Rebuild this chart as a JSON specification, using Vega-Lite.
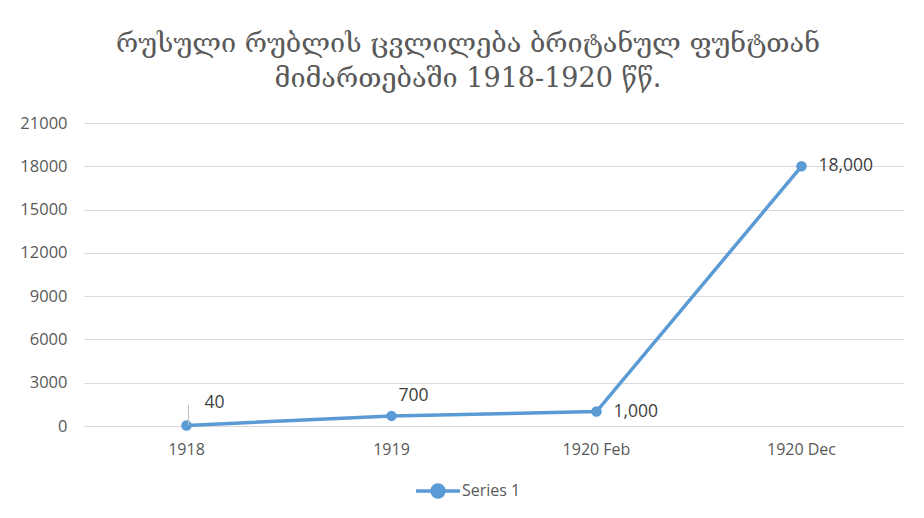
{
  "$schema": "https://vega.github.io/schema/vega-lite/v6.json",
  "width": 820,
  "height": 303,
  "autosize": "none",
  "padding": {"left": 84, "top": 123, "right": 20, "bottom": 92},
  "background": "white",
  "config": {"view": {"stroke": null}},
  "title": {
    "text": ["რუსული რუბლის ცვლილება ბრიტანულ ფუნტთან", "მიმართებაში 1918-1920 წწ."],
    "font": "DejaVu Serif",
    "fontSize": 27,
    "fontWeight": "normal",
    "color": "#595959",
    "anchor": "middle",
    "dx": -26,
    "offset": 22,
    "lineHeight": 35
  },
  "data": {
    "values": [
      {"period": "1918", "value": 40, "series": "Series 1"},
      {"period": "1919", "value": 700, "series": "Series 1"},
      {"period": "1920 Feb", "value": 1000, "series": "Series 1"},
      {"period": "1920 Dec", "value": 18000, "series": "Series 1"}
    ]
  },
  "encoding": {
    "x": {
      "field": "period",
      "type": "ordinal",
      "sort": null,
      "axis": {
        "title": null,
        "labelAngle": 0,
        "ticks": false,
        "domainColor": "#d9d9d9",
        "labelPadding": 15,
        "labelFont": "Open Sans",
        "labelFontSize": 16,
        "labelColor": "#595959"
      }
    },
    "y": {
      "field": "value",
      "type": "quantitative",
      "scale": {"domain": [0, 21000], "nice": false},
      "axis": {
        "title": null,
        "values": [0, 3000, 6000, 9000, 12000, 15000, 18000, 21000],
        "format": "d",
        "domain": false,
        "ticks": false,
        "gridColor": "#d9d9d9",
        "labelPadding": 17,
        "labelFont": "Open Sans",
        "labelFontSize": 16.5,
        "labelColor": "#595959"
      }
    }
  },
  "layer": [
    {
      "mark": {"type": "line", "strokeWidth": 3.5},
      "encoding": {
        "color": {
          "field": "series",
          "type": "nominal",
          "scale": {"range": ["#5B9BD5"]},
          "legend": {
            "title": null,
            "orient": "none",
            "legendX": 330,
            "legendY": 344,
            "symbolType": "M-1,0L1,0M-0.27,0A0.27,0.27,0,1,1,0.27,0A0.27,0.27,0,1,1,-0.27,0Z",
            "symbolSize": 1936,
            "symbolStrokeWidth": 3.5,
            "symbolFillColor": "#5B9BD5",
            "symbolStrokeColor": "#5B9BD5",
            "labelFont": "Open Sans",
            "labelFontSize": 16,
            "labelColor": "#595959",
            "labelOffset": 0
          }
        }
      }
    },
    {
      "mark": {"type": "point", "filled": true, "size": 110, "opacity": 1, "color": "#5B9BD5"}
    },
    {
      "transform": [{"filter": "datum.period == '1918'"}],
      "mark": {"type": "rule", "color": "#bfbfbf", "strokeWidth": 1, "xOffset": 2},
      "encoding": {"y2": {"datum": 1450}}
    },
    {
      "transform": [{"filter": "datum.period == '1918'"}],
      "mark": {"type": "text", "align": "left", "baseline": "middle", "dx": 18, "dy": -22, "font": "Open Sans", "fontSize": 17.5, "color": "#404040"},
      "encoding": {"text": {"field": "value", "type": "quantitative", "format": ","}}
    },
    {
      "transform": [{"filter": "datum.period == '1919'"}],
      "mark": {"type": "text", "align": "center", "baseline": "middle", "dx": 22, "dy": -20, "font": "Open Sans", "fontSize": 17.5, "color": "#404040"},
      "encoding": {"text": {"field": "value", "type": "quantitative", "format": ","}}
    },
    {
      "transform": [{"filter": "datum.period == '1920 Feb' || datum.period == '1920 Dec'"}],
      "mark": {"type": "text", "align": "left", "baseline": "middle", "dx": 17, "dy": 0, "font": "Open Sans", "fontSize": 17.5, "color": "#404040"},
      "encoding": {"text": {"field": "value", "type": "quantitative", "format": ","}}
    }
  ]
}
